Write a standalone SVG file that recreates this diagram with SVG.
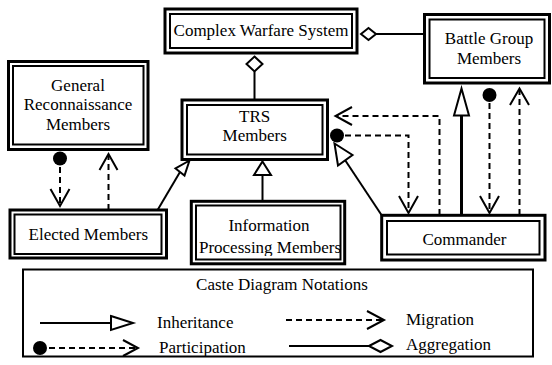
<svg xmlns="http://www.w3.org/2000/svg" width="552" height="365" viewBox="0 0 552 365">
<style>
text{font-family:"Liberation Serif","Times New Roman",serif;font-size:17px;fill:#000;text-anchor:middle}
.o{fill:#fff;stroke:#000;stroke-width:3}
.i{fill:#fff;stroke:#000;stroke-width:2}
.ln{fill:none;stroke:#000;stroke-width:2}
.th{fill:none;stroke:#000;stroke-width:3}
.ds{fill:none;stroke:#000;stroke-width:2;stroke-dasharray:6,4}
.tri{fill:#fff;stroke:#000;stroke-width:2;stroke-linejoin:miter}
.chev{fill:none;stroke:#000;stroke-width:2}
.dot{fill:#000}
</style>
<defs>
<clipPath id="infoclip"><rect x="196" y="205" width="145" height="51"/></clipPath>
</defs>
<g id="connectors">
<line class="ln" x1="254.5" y1="71.5" x2="254.5" y2="100"/>
<polygon class="tri" points="254.5,56.5 262.5,64 254.5,71.5 246.5,64"/>
<line class="ln" x1="376" y1="34" x2="424" y2="34"/>
<polygon class="tri" points="361,34 368.5,28 376,34 368.5,40"/>
<line class="ln" x1="157" y1="211" x2="180" y2="172"/>
<polygon class="tri" points="189.5,160.5 175.5,168.5 184.5,175.5"/>
<line class="ln" x1="262.5" y1="201" x2="262.5" y2="175"/>
<polygon class="tri" points="262.5,161.5 271,175 254,175"/>
<line class="ln" x1="381.5" y1="215" x2="345" y2="160"/>
<polygon class="tri" points="334.5,143.5 352.5,155 338,165.5"/>
<line class="th" x1="461.5" y1="115.5" x2="461.5" y2="215"/>
<polygon class="tri" points="461.5,88.5 454,115.5 469,115.5"/>
<circle class="dot" cx="489.5" cy="95" r="7"/>
<line class="ds" x1="489.5" y1="103" x2="489.5" y2="212"/>
<polyline class="chev" points="480,196 489.5,213 499,196"/>
<line class="ds" x1="519.5" y1="215" x2="519.5" y2="90"/>
<polyline class="chev" points="510,105 519.5,88.5 529,105"/>
<polyline class="ds" points="439.5,215 439.5,116 337,116"/>
<polyline class="chev" points="352,107 335.5,116 352,125"/>
<circle class="dot" cx="337" cy="135.5" r="7"/>
<polyline class="ds" points="345,135.5 408.5,135.5 408.5,212"/>
<polyline class="chev" points="399,196 408.5,213 418,196"/>
<circle class="dot" cx="60" cy="158.5" r="7"/>
<line class="ds" x1="60" y1="167" x2="60" y2="206"/>
<polyline class="chev" points="50.5,189 60,206 69.5,189"/>
<line class="ds" x1="108.5" y1="210" x2="108.5" y2="155"/>
<polyline class="chev" points="99.5,170 108.5,154 117.5,170"/>
</g>
<g id="cws">
<rect class="o" x="165" y="9" width="192" height="44"/>
<rect class="i" x="170" y="14" width="182" height="34"/>
<text x="261" y="36">Complex Warfare System</text>
</g>
<g id="battle">
<rect class="o" x="424.5" y="14.5" width="125" height="68.5"/>
<rect class="i" x="429.5" y="19.5" width="115" height="58.5"/>
<text x="489" y="43.5">Battle Group</text>
<text x="489" y="63.5">Members</text>
</g>
<g id="grm">
<rect class="o" x="8.5" y="61.5" width="139.5" height="88"/>
<rect class="i" x="13" y="66" width="130.5" height="78.5"/>
<text x="78" y="90.5">General</text>
<text x="78" y="110">Reconnaissance</text>
<text x="78" y="130">Members</text>
</g>
<g id="trs">
<rect class="o" x="182" y="100" width="145.5" height="59.5"/>
<rect class="i" x="187" y="105" width="135.5" height="49.5"/>
<text x="254.7" y="122">TRS</text>
<text x="254.7" y="141">Members</text>
</g>
<g id="elected">
<rect class="o" x="10" y="210" width="156.5" height="48"/>
<rect class="i" x="14.5" y="214.5" width="147" height="39.5"/>
<text x="88.3" y="239.5">Elected Members</text>
</g>
<g id="info">
<rect class="o" x="191.3" y="201.3" width="153.4" height="62.5"/>
<rect class="i" x="196" y="205.5" width="144.5" height="54"/>
<g clip-path="url(#infoclip)">
<text x="269" y="231">Information</text>
<text x="270" y="253">Processing Members</text>
</g>
</g>
<g id="commander">
<rect class="o" x="381.7" y="215.3" width="163.3" height="44.7"/>
<rect class="i" x="387" y="221" width="152.5" height="33.5"/>
<text x="464.5" y="245">Commander</text>
</g>
<g id="legend">
<rect x="23" y="269.5" width="510" height="87" fill="#fff" stroke="#000" stroke-width="2"/>
<text x="282" y="290">Caste Diagram Notations</text>
<line class="ln" x1="40" y1="323" x2="111" y2="323"/>
<polygon class="tri" points="111,316 133,323 111,330"/>
<text x="157" y="328" style="text-anchor:start">Inheritance</text>
<line class="ds" x1="286" y1="320" x2="382" y2="320"/>
<polyline class="chev" points="367,311 384,320 367,329"/>
<text x="406" y="325" style="text-anchor:start">Migration</text>
<circle class="dot" cx="40" cy="348" r="7"/>
<line class="ds" x1="49" y1="348" x2="136" y2="348"/>
<polyline class="chev" points="123,340 138,348 123,356"/>
<text x="159" y="353" style="text-anchor:start">Participation</text>
<line class="ln" x1="289" y1="346" x2="369" y2="346"/>
<polygon class="tri" points="369,346 380.5,340 392,346 380.5,352"/>
<text x="406" y="350" style="text-anchor:start">Aggregation</text>
</g>
</svg>
